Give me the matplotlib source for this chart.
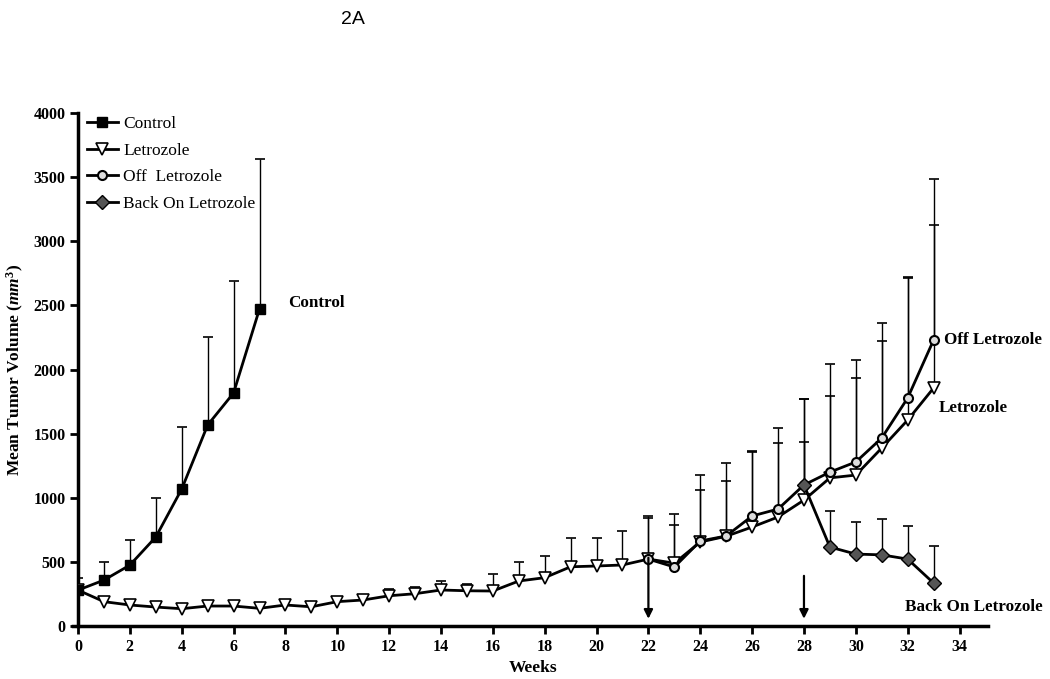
import matplotlib
matplotlib.use("Agg")
import matplotlib.pyplot as plt
import numpy as np

# ---- data ----
weeks_ctrl = [0, 1, 2, 3, 4, 5, 6, 7]
ctrl_mean = [280, 358, 475, 694, 1068, 1567, 1817, 2472]
ctrl_err_top = [374, 499, 670, 1001, 1552, 2256, 2693, 3645]

weeks_let = list(range(0, 34))
let_mean = [280, 190, 164, 148, 135, 156, 156, 138, 164, 150, 190, 203, 236, 252,
            281, 275, 273, 351, 377, 462, 468, 476, 522, 490, 655, 700, 772, 850,
            982, 1155, 1177, 1388, 1606, 1856]
let_err_top = [None, None, None, None, None, None, None, None, None, None, None, 242, 288, 304,
               353, 327, 405, 499, 548, 686, 686, 743, 844, 873, 1060, 1131, 1357, 1427,
               1437, 1793, 1934, 2222, 2710, 3129]

weeks_off = list(range(22, 34))
off_mean = [522, 460, 663, 702, 858, 912, 1100, 1200, 1279, 1466, 1778, 2230]
off_err_top = [858, 788, 1177, 1271, 1364, 1544, 1770, 2045, 2074, 2362, 2720, 3485]

weeks_back = [28, 29, 30, 31, 32, 33]
back_mean = [1100, 616, 561, 555, 522, 335]
back_err_top = [1770, 899, 811, 837, 780, 624]

arrow_weeks = [22, 28]
arrow_top = [554, 413]

xticks = list(range(0, 35, 2))
yticks = list(range(0, 4001, 500))

serif = "Liberation Serif"
plt.rcParams["mathtext.fontset"] = "custom"
plt.rcParams["mathtext.it"] = "Liberation Serif:italic:bold"
plt.rcParams["mathtext.rm"] = "Liberation Serif:bold"
plt.rcParams["mathtext.bf"] = "Liberation Serif:bold"

fig = plt.figure(figsize=(10.5, 6.79), dpi=100)
ax = fig.add_axes([0.0743, 0.078, 0.8667, 0.7556])

def errs(x, m, t):
    xs, lo, hi = [], [], []
    for a, b, c in zip(x, m, t):
        if c is not None:
            xs.append(a); lo.append(b); hi.append(c)
    ax.vlines(xs, lo, hi, colors="black", linewidth=1.0, zorder=1)
    ax.scatter(xs, hi, marker="_", s=60, color="black", linewidths=1.2, zorder=1)

errs(weeks_ctrl, ctrl_mean, ctrl_err_top)
errs(weeks_let, let_mean, let_err_top)
errs(weeks_off, off_mean, off_err_top)
errs(weeks_back, back_mean, back_err_top)

lw = 2.0
ax.plot(weeks_let, let_mean, color="black", lw=lw, marker="v", ms=9,
        mfc="white", mec="black", mew=1.2, label="Letrozole", zorder=3)
ax.plot(weeks_off, off_mean, color="black", lw=lw, marker="o", ms=6.5,
        mfc="#dddddd", mec="black", mew=1.5, label="Off  Letrozole", zorder=4)
ax.plot(weeks_back, back_mean, color="black", lw=lw, marker="D", ms=7.5,
        mfc="#555555", mec="black", mew=1.0, label="Back On Letrozole", zorder=5)
ax.plot(weeks_ctrl, ctrl_mean, color="black", lw=lw, marker="s", ms=7,
        mfc="black", mec="black", label="Control", zorder=6)

for w, t in zip(arrow_weeks, arrow_top):
    ax.annotate("", xy=(w, 35), xytext=(w, t),
                arrowprops=dict(arrowstyle="-|>", color="black", lw=1.6,
                                mutation_scale=13), zorder=7)

ax.set_xlim(0, 35.1)
ax.set_ylim(0, 4000)
ax.set_xticks(xticks)
ax.set_yticks(yticks)
tick_font = {"family": serif, "weight": "bold", "size": 11.5}
ax.set_xticklabels([str(v) for v in xticks], fontdict=tick_font)
ax.set_yticklabels([str(v) for v in yticks], fontdict=tick_font)
for s in ["top", "right"]:
    ax.spines[s].set_visible(False)
for s in ["left", "bottom"]:
    ax.spines[s].set_linewidth(2.5)
ax.spines["bottom"].set_bounds(-0.2, 35.1)
ax.tick_params(width=2.0, length=6, direction="out", pad=3)

ax.set_xlabel("Weeks", fontfamily=serif, fontweight="bold", fontsize=12.5, labelpad=4)
ax.set_ylabel(r"Mean Tumor Volume ($mm^3$)", fontfamily=serif,
              fontweight="bold", fontsize=12.5, labelpad=5)

handles, labels = ax.get_legend_handles_labels()
order = [3, 0, 1, 2]
leg = ax.legend([handles[i] for i in order], [labels[i] for i in order],
                loc="upper left", bbox_to_anchor=(0.0, 1.012), frameon=False,
                prop={"family": serif, "size": 12.5}, handlelength=1.8,
                labelspacing=0.62, handletextpad=0.3, borderaxespad=0.1)

ax.text(8.1, 2520, "Control", fontfamily=serif, fontweight="bold", fontsize=12.3,
        va="center", ha="left")
ax.text(33.4, 2230, "Off Letrozole", fontfamily=serif, fontweight="bold", fontsize=12.3,
        va="center", ha="left")
ax.text(33.2, 1700, "Letrozole", fontfamily=serif, fontweight="bold", fontsize=12.3,
        va="center", ha="left")
ax.text(31.9, 150, "Back On Letrozole", fontfamily=serif, fontweight="bold", fontsize=12.3,
        va="center", ha="left")

fig.text(353 / 1050, 1 - 20 / 679, "2A", fontfamily="Liberation Sans", fontsize=14,
         ha="center", va="center")

fig.savefig("out.png", dpi=100)
